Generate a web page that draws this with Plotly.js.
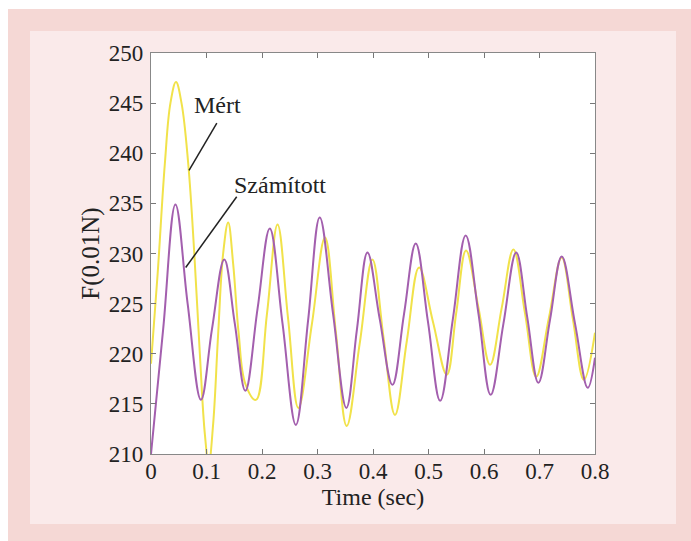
<!DOCTYPE html>
<html>
<head>
<meta charset="utf-8">
<script src="https://cdn.plot.ly/plotly-3.0.1.min.js"></script>
<style>
  html, body { margin: 0; padding: 0; background: #ffffff; }
  #chart { width: 691px; height: 541px; }
</style>
</head>
<body>
<div id="chart"></div>
<script>
// Measured (Mért) series
const mertTime = [0, 0.012, 0.025, 0.035, 0.045, 0.055, 0.067, 0.078, 0.088, 0.097, 0.104, 0.112, 0.121, 0.130, 0.139, 0.148, 0.158, 0.170, 0.189, 0.209, 0.228, 0.247, 0.2655, 0.290, 0.3135, 0.333, 0.3526, 0.376, 0.399, 0.419, 0.4396, 0.461, 0.483, 0.508, 0.533, 0.550, 0.5676, 0.590, 0.611, 0.632, 0.653, 0.674, 0.694, 0.717, 0.740, 0.760, 0.780, 0.800];
const mertForce = [219, 228, 239, 245, 247.1, 245, 239, 230, 220, 212, 209, 213, 222, 230, 233.1, 229, 222, 217, 215.4, 224, 232.9, 223.5, 214.6, 223, 231.6, 222.2, 212.8, 221, 229.4, 221.6, 213.9, 221.3, 228.6, 223.2, 217.9, 224.1, 230.3, 224.6, 218.9, 224.6, 230.4, 224, 217.7, 223.6, 229.6, 223.5, 217.4, 222.1];

// Computed (Számított) series
const szamTime = [0, 0.022, 0.044, 0.066, 0.090, 0.110, 0.132, 0.151, 0.170, 0.192, 0.214, 0.237, 0.261, 0.283, 0.304, 0.328, 0.352, 0.371, 0.390, 0.412, 0.435, 0.456, 0.477, 0.499, 0.521, 0.544, 0.567, 0.590, 0.612, 0.635, 0.658, 0.678, 0.698, 0.719, 0.740, 0.764, 0.787, 0.800];
const szamForce = [210, 222.5, 234.9, 225, 215.4, 222.5, 229.4, 223, 216.3, 224.5, 232.5, 223, 212.9, 223.3, 233.6, 224, 214.6, 222.4, 230.1, 223.5, 216.9, 224, 231.0, 223.2, 215.3, 223.5, 231.8, 224, 215.9, 223, 230.1, 223.6, 217.1, 223.4, 229.7, 223, 216.6, 219.6];

// Axis ticks
const xTicks = [0, 0.1, 0.2, 0.3, 0.4, 0.5, 0.6, 0.7, 0.8];
const yTicks = [210, 215, 220, 225, 230, 235, 240, 245, 250];

const serif = '"Liberation Serif", "Times New Roman", serif';

const traces = [
  { x: mertTime, y: mertForce, type: 'scatter', mode: 'lines', name: 'Mért',
    line: { color: '#f1e24a', width: 2, shape: 'spline', smoothing: 1.1 } },
  { x: szamTime, y: szamForce, type: 'scatter', mode: 'lines', name: 'Számított',
    line: { color: '#a35fae', width: 2, shape: 'spline', smoothing: 1.1 } }
];

const layout = {
  width: 691, height: 541,
  margin: { l: 151, r: 96, t: 53, b: 87 },
  paper_bgcolor: '#ffffff',
  plot_bgcolor: '#ffffff',
  showlegend: false,
  font: { family: serif, size: 23, color: '#222222' },
  xaxis: {
    range: [0, 0.8], tickvals: xTicks, ticktext: xTicks.map(String),
    ticks: 'inside', ticklen: 5, tickcolor: '#777', mirror: 'ticks',
    showline: true, linecolor: '#888', linewidth: 1.2,
    showgrid: false, zeroline: false, ticklabelstandoff: -4,
    automargin: true,
    tickfont: { family: serif, size: 23, color: '#222' },
    title: { text: 'Time (sec)', font: { family: serif, size: 24, color: '#222' }, standoff: 0 }
  },
  yaxis: {
    range: [210, 250], tickvals: yTicks, ticktext: yTicks.map(String),
    ticks: 'inside', ticklen: 5, tickcolor: '#777', mirror: 'ticks',
    showline: true, linecolor: '#888', linewidth: 1.2,
    showgrid: false, zeroline: false, ticklabelstandoff: 2,
    tickfont: { family: serif, size: 23, color: '#222' },
    title: { text: 'F(0.01N)', font: { family: serif, size: 25, color: '#222' }, standoff: 2 }
  },
  shapes: [
    { type: 'rect', xref: 'paper', yref: 'paper', x0: -0.3221, x1: 1.2162, y0: -0.217, y1: 1.1097,
      fillcolor: '#f5d8d5', line: { width: 0 }, layer: 'below' },
    { type: 'rect', xref: 'paper', yref: 'paper', x0: -0.2725, x1: 1.1824, y0: -0.1746, y1: 1.0549,
      fillcolor: '#faeaea', line: { width: 0 }, layer: 'below' },
    { type: 'rect', xref: 'paper', yref: 'paper', x0: 0, x1: 1, y0: 0, y1: 1,
      fillcolor: '#ffffff', line: { width: 0 }, layer: 'below' },
    { type: 'line', xref: 'x', yref: 'y', x0: 0.1186, y0: 243.0, x1: 0.0685, y1: 238.3,
      line: { color: '#222', width: 1.5 } },
    { type: 'line', xref: 'x', yref: 'y', x0: 0.1544, y0: 235.66, x1: 0.0625, y1: 228.6,
      line: { color: '#222', width: 1.5 } }
  ],
  annotations: [
    { x: 0.1207, y: 244.8, xref: 'x', yref: 'y', text: 'Mért', showarrow: false,
      font: { family: serif, size: 24, color: '#222' } },
    { x: 0.2324, y: 236.8, xref: 'x', yref: 'y', text: 'Számított', showarrow: false,
      font: { family: serif, size: 24, color: '#222' } }
  ]
};

Plotly.newPlot('chart', traces, layout, { staticPlot: true, displayModeBar: false });
</script>
</body>
</html>
